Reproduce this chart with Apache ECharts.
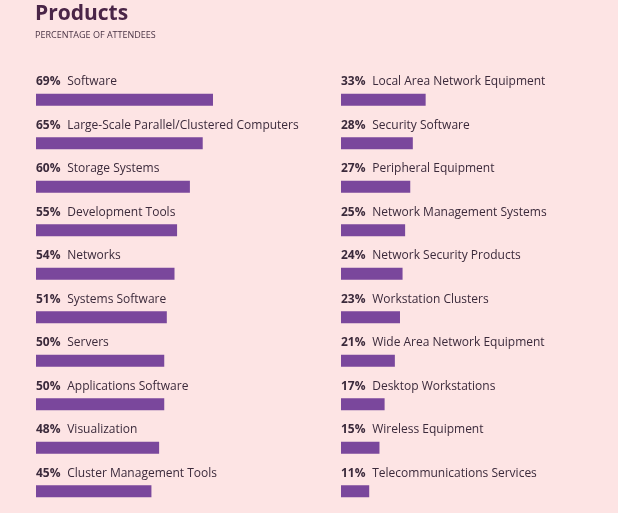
<!DOCTYPE html>
<html><head><meta charset="utf-8">
<script src="https://cdn.jsdelivr.net/npm/echarts@6/dist/echarts.min.js"></script>
<style>html,body{margin:0;padding:0;background:#fde4e4;}#c{width:618px;height:513px;}</style>
</head><body><div id="c"></div>
<script>
const leftCategories = ["Software","Large-Scale Parallel/Clustered Computers","Storage Systems","Development Tools","Networks","Systems Software","Servers","Applications Software","Visualization","Cluster Management Tools"];
const leftValues = [69,65,60,55,54,51,50,50,48,45];
const rightCategories = ["Local Area Network Equipment","Security Software","Peripheral Equipment","Network Management Systems","Network Security Products","Workstation Clusters","Wide Area Network Equipment","Desktop Workstations","Wireless Equipment","Telecommunications Services"];
const rightValues = [33,28,27,25,24,23,21,17,15,11];

const chart = echarts.init(document.getElementById('c'));
const font = '"Open Sans", "Noto Sans", sans-serif';
function mkSeries(idx, cats, vals){
  return {
    type:'bar', xAxisIndex:idx, yAxisIndex:idx,
    data: vals.map((v,i)=>({value:v, name:cats[i]})),
    barWidth:12,
    itemStyle:{color:'#7a479c'},
    silent:true,
    label:{
      show:true, position:[0,-12], align:'left', verticalAlign:'middle',
      formatter: p => '{p|' + p.value + '%}  {n|' + p.name + '}',
      rich:{
        p:{fontFamily:font, fontWeight:'bold', fontSize:12, color:'#3b2a3b'},
        n:{fontFamily:font, fontSize:12, color:'#3b2a3b'}
      }
    }
  };
}
function yAx(idx, cats){
  return {type:'category', gridIndex:idx, data:cats, inverse:true, show:false};
}
function xAx(idx){
  return {type:'value', gridIndex:idx, min:0, max:100, show:false};
}
chart.setOption({
  backgroundColor:'#fde4e4',
  animation:false,
  title:{
    text:'Products', subtext:'PERCENTAGE OF ATTENDEES',
    left:30, top:-1, itemGap:6,
    textStyle:{fontFamily:font, fontWeight:'bold', fontSize:21, color:'#4a2547'},
    subtextStyle:{fontFamily:font, fontSize:9, color:'#4a3445'}
  },
  grid:[
    {left:36, top:78, width:256.5, height:436},
    {left:341, top:78, width:256.5, height:436}
  ],
  xAxis:[xAx(0), xAx(1)],
  yAxis:[yAx(0,leftCategories), yAx(1,rightCategories)],
  series:[mkSeries(0,leftCategories,leftValues), mkSeries(1,rightCategories,rightValues)]
});
</script></body></html>
